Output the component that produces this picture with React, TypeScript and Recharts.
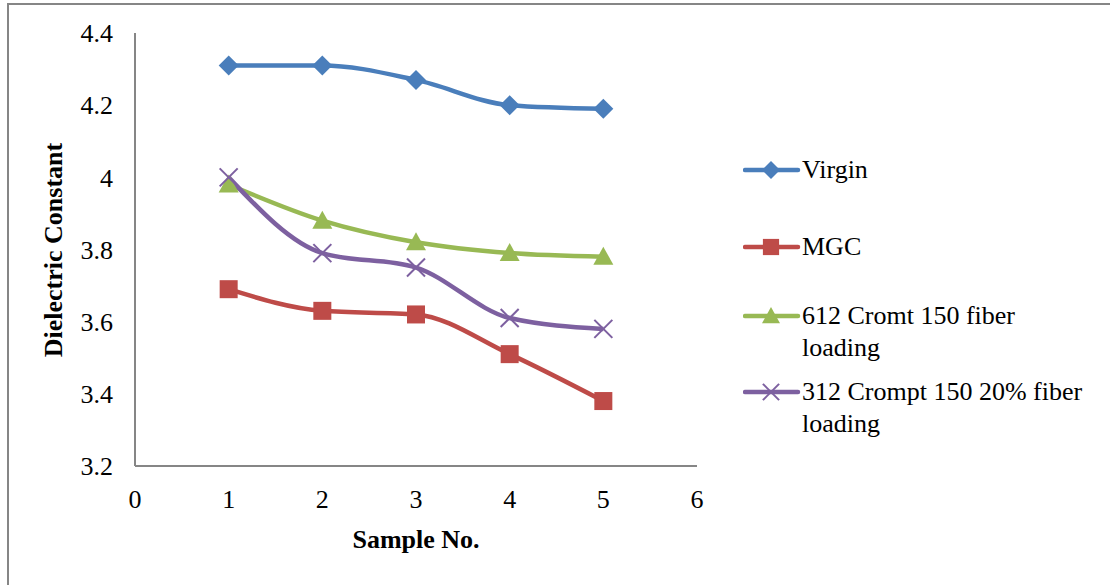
import { LineChart, Line, XAxis, YAxis, Label } from 'recharts';

const samples = [1, 2, 3, 4, 5];
const virgin = [4.31, 4.31, 4.27, 4.2, 4.19];
const mgc = [3.69, 3.63, 3.62, 3.51, 3.38];
const cromt612 = [3.98, 3.88, 3.82, 3.79, 3.78];
const crompt312 = [4.0, 3.79, 3.75, 3.61, 3.58];

const xTicks = [0, 1, 2, 3, 4, 5, 6];
const yTicks = [3.2, 3.4, 3.6, 3.8, 4.0, 4.2, 4.4];

const seriesNames = ['Virgin', 'MGC', '612 Cromt 150 fiber loading', '312 Crompt 150 20% fiber loading'];
const seriesKeys = ['virgin', 'mgc', 'cromt612', 'crompt312'];
const seriesColors = ['#4A7EBB', '#BE4B48', '#98B954', '#7D60A0'];
const seriesShapes = ['diamond', 'square', 'triangle', 'cross'];

// legend entry tops, as laid out in the original
const legendTops = [154, 231, 300, 376];

const FONT = '"Liberation Serif", "Times New Roman", serif';
const AXIS = '#868686';

const data = samples.map((s, i) => ({
  sample: s,
  virgin: virgin[i],
  mgc: mgc[i],
  cromt612: cromt612[i],
  crompt312: crompt312[i],
}));

function Marker({ shape, cx, cy, color, r }: { shape: string; cx: number; cy: number; color: string; r: number }) {
  if (shape === 'diamond') {
    return <polygon points={`${cx},${cy - r} ${cx + r},${cy} ${cx},${cy + r} ${cx - r},${cy}`} fill={color} />;
  }
  if (shape === 'square') {
    const h = r * 0.9;
    return <rect x={cx - h} y={cy - h} width={h * 2} height={h * 2} fill={color} />;
  }
  if (shape === 'triangle') {
    return <polygon points={`${cx},${cy - r} ${cx + r},${cy + r * 0.8} ${cx - r},${cy + r * 0.8}`} fill={color} />;
  }
  const h = r * 0.9;
  return (
    <g stroke={color} strokeWidth={2}>
      <line x1={cx - h} y1={cy - h} x2={cx + h} y2={cy + h} />
      <line x1={cx - h} y1={cy + h} x2={cx + h} y2={cy - h} />
    </g>
  );
}

function ChartLegend() {
  return (
    <>
      {seriesNames.map((name, i) => (
        <div
          key={name}
          style={{
            position: 'absolute',
            left: 743,
            top: legendTops[i],
            display: 'flex',
            alignItems: 'flex-start',
            fontFamily: FONT,
            fontSize: 26,
            lineHeight: '32px',
            color: '#000',
          }}
        >
          <svg width={58} height={32} style={{ flex: 'none' }}>
            <line x1={2} y1={16} x2={55} y2={16} stroke={seriesColors[i]} strokeWidth={4.5} strokeLinecap="round" />
            <Marker shape={seriesShapes[i]} cx={28} cy={16} color={seriesColors[i]} r={9} />
          </svg>
          <div style={{ width: 292, marginLeft: 1 }}>{name}</div>
        </div>
      ))}
    </>
  );
}

export default function App() {
  return (
    <div style={{ position: 'absolute', left: 0, top: 0, width: 1110, height: 585, background: '#fff' }}>
      <div
        style={{
          position: 'absolute',
          left: 7,
          top: 3,
          width: 1103,
          height: 582,
          borderTop: `2px solid ${AXIS}`,
          borderLeft: `2px solid ${AXIS}`,
        }}
      />
      <LineChart
        width={1110}
        height={585}
        data={data}
        margin={{ top: 33, right: 413, bottom: 59, left: 35 }}
        style={{ position: 'absolute', left: 0, top: 0 }}
      >
        <XAxis
          dataKey="sample"
          type="number"
          domain={[0, 6]}
          ticks={xTicks}
          height={60}
          axisLine={{ stroke: AXIS, strokeWidth: 2 }}
          tickLine={false}
          tickSize={0}
          tickMargin={24}
          tick={{ fill: '#000', fontSize: 26, fontFamily: FONT }}
        >
          <Label
            content={() => (
              <text x={416} y={548} textAnchor="middle" fontFamily={FONT} fontSize={26} fontWeight="bold" fill="#000">
                Sample No.
              </text>
            )}
          />
        </XAxis>
        <YAxis
          type="number"
          domain={[3.2, 4.4]}
          ticks={yTicks}
          width={100}
          axisLine={{ stroke: AXIS, strokeWidth: 2 }}
          tickLine={false}
          tickSize={0}
          tickMargin={22}
          tick={{ fill: '#000', fontSize: 26, fontFamily: FONT }}
          tickFormatter={(v: number) => String(Math.round(v * 10) / 10)}
        >
          <Label
            content={() => (
              <text
                x={62}
                y={250}
                transform="rotate(-90 62 250)"
                textAnchor="middle"
                fontFamily={FONT}
                fontSize={26}
                fontWeight="bold"
                fill="#000"
              >
                Dielectric Constant
              </text>
            )}
          />
        </YAxis>
        {seriesKeys.map((key, i) => (
          <Line
            key={key}
            dataKey={key}
            name={seriesNames[i]}
            type="monotone"
            stroke={seriesColors[i]}
            strokeWidth={4.5}
            isAnimationActive={false}
            dot={(p: any) => (
              <Marker
                key={`${key}-${p.index}`}
                shape={seriesShapes[i]}
                cx={p.cx}
                cy={p.cy}
                color={seriesColors[i]}
                r={10}
              />
            )}
            activeDot={false}
          />
        ))}
      </LineChart>
      <ChartLegend />
    </div>
  );
}
